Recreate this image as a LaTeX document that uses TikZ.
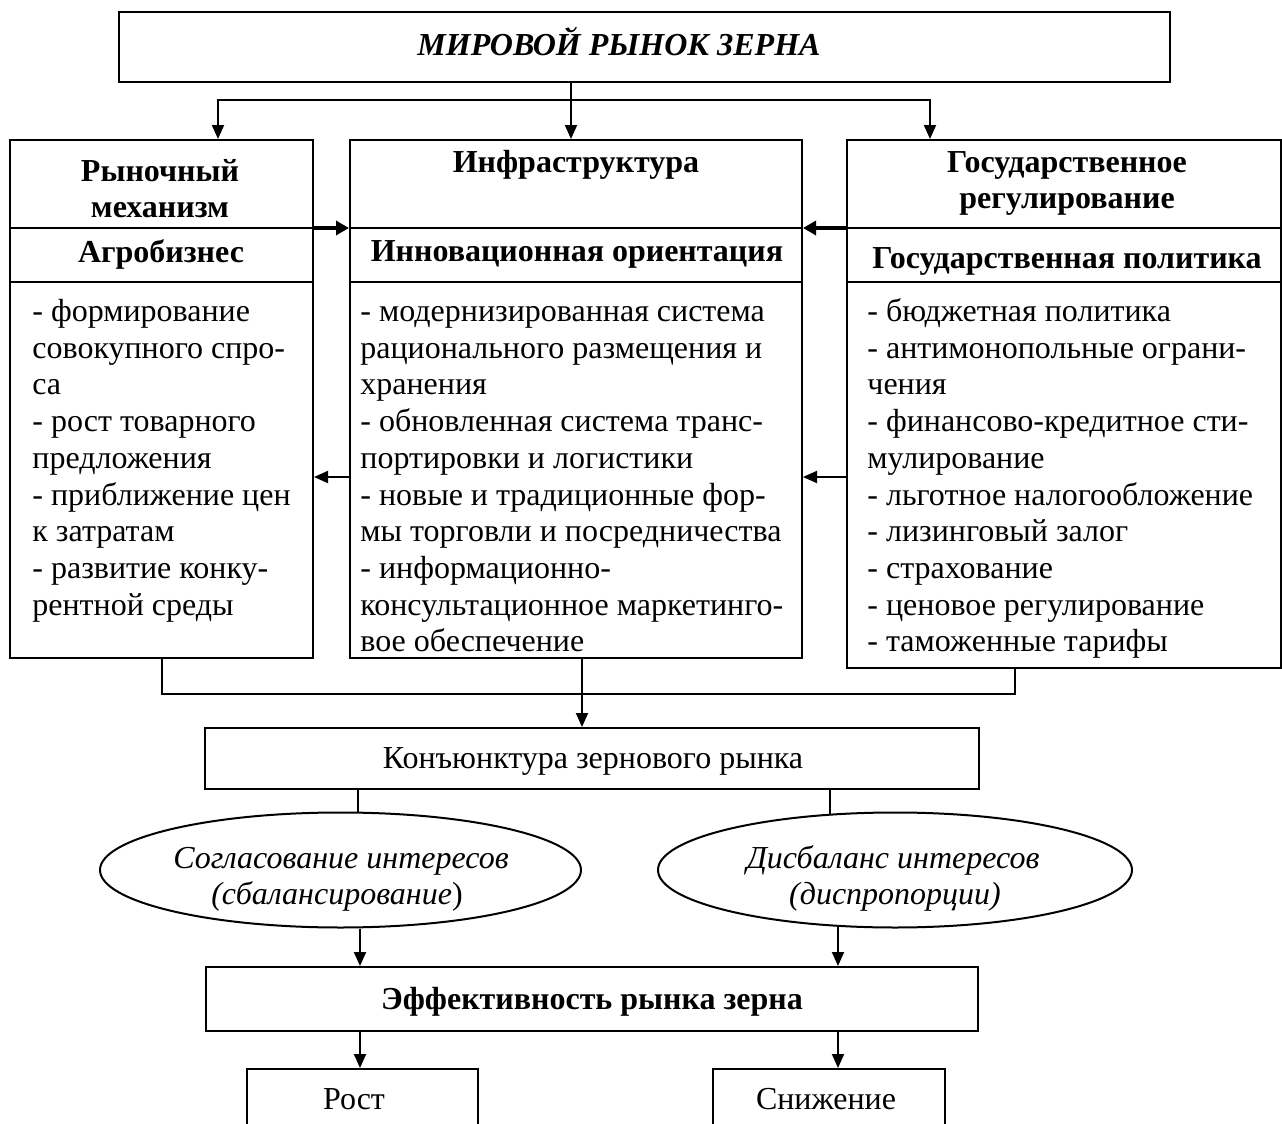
\documentclass[tikz,border=0pt]{standalone}
\usepackage{fontspec}
\setmainfont{Liberation Serif}
\usetikzlibrary{arrows.meta,shapes.geometric}
\newcommand\myfont{\fontsize{16pt}{18pt}\selectfont}
\begin{document}
\begin{tikzpicture}[x=0.5pt,y=-0.5pt,
  box/.style={draw, line width=1pt, inner sep=0pt, rectangle},
  ell/.style={draw, ellipse, line width=1pt, inner sep=0pt},
  lbl/.style={inner sep=0pt, anchor=base, font=\myfont},
  hdr/.style={inner sep=0pt, anchor=base, font=\myfont\bfseries},
  itl/.style={inner sep=0pt, anchor=base, font=\myfont\itshape},
  listA/.style={inner sep=0pt, anchor=north west, align=left, font={\fontsize{16pt}{18.35pt}\selectfont}},
  conn/.style={line width=1pt, line cap=rect},
  arr/.style={line width=1pt, -{Triangle[length=7pt,width=6pt]}},
  thickarr/.style={line width=2pt, -{Triangle[length=6.5pt,width=7pt]}}]
\useasboundingbox (0,0) rectangle (1282,1124);

% top box
\node[box, minimum width=525.5pt, minimum height=35pt] (top) at (644.5,47) {};
\node[lbl, font=\myfont\bfseries\itshape] (title) at (619,55) {МИРОВОЙ РЫНОК ЗЕРНА};

% columns
\node[box, minimum width=151.5pt, minimum height=259pt] (L) at (161.5,399) {};
\node[box, minimum width=226pt, minimum height=259pt] (M) at (576,399) {};
\node[box, minimum width=217pt, minimum height=264pt] (R) at (1064,404) {};

\coordinate (d1) at (0,228);
\coordinate (d2) at (0,282);
\coordinate (d3) at (0,477);
\foreach \n in {L,M,R}{
  \draw[line width=1pt] (\n.west |- d1) -- (\n.east |- d1);
  \draw[line width=1pt] (\n.west |- d2) -- (\n.east |- d2);
}

% headers
\node[hdr] (Lh1) at (160,181) {Рыночный};
\node[hdr] (Lh2) at (160,217) {механизм};
\node[hdr] (Mh) at (576,172) {Инфраструктура};
\node[hdr] (Rh1) at (1067,172) {Государственное};
\node[hdr] (Rh2) at (1067,208) {регулирование};
\node[hdr] (Ls) at (161,262) {Агробизнес};
\node[hdr] (Ms) at (577,261) {Инновационная ориентация};
\node[hdr] (Rs) at (1067,268) {Государственная политика};

% lists
\node[listA] (Lt) at (32,295.5) {\strut- формирование\\совокупного спро-\\са\\- рост товарного\\предложения\\- приближение цен\\к затратам\\- развитие конку-\\рентной среды};
\node[listA] (Mt) at (360,295.5) {\strut- модернизированная система\\рационального размещения и\\хранения\\- обновленная система транс-\\портировки и логистики\\- новые и традиционные фор-\\мы торговли и посредничества\\- информационно-\\консультационное маркетинго-\\вое обеспечение};
\node[listA] (Rt) at (867,295.5) {\strut- бюджетная политика\\- антимонопольные ограни-\\чения\\- финансово-кредитное сти-\\мулирование\\- льготное налогообложение\\- лизинговый залог\\- страхование\\- ценовое регулирование\\- таможенные тарифы};

% arrows between columns
\draw[thickarr] (L.east |- d1) -- (M.west |- d1);
\draw[thickarr] (R.west |- d1) -- (M.east |- d1);
\draw[arr] (M.west |- d3) -- (L.east |- d3);
\draw[arr] (R.west |- d3) -- (M.east |- d3);

% top connectors
\coordinate (t1) at (218,100);
\coordinate (t2) at (571,100);
\coordinate (t3) at (930,100);
\draw[conn] (top.south -| t2) -- (t2);
\draw[conn] (t1) -- (t3);
\draw[arr] (t1) -- (t1 |- L.north);
\draw[arr] (t2) -- (t2 |- M.north);
\draw[arr] (t3) -- (t3 |- R.north);

% conjuncture box
\node[box, minimum width=387pt, minimum height=30.5pt] (K) at (592,758.5) {};
\node[lbl] (Kt) at (593,768) {Конъюнктура зернового рынка};

% bottom connectors
\coordinate (b1) at (161.5,694);
\coordinate (b2) at (582,694);
\coordinate (b3) at (1015,694);
\draw[conn] (L.south) -- (b1) -- (b3) -- (b3 |- R.south);
\draw[arr] (M.south -| b2) -- (b2 |- K.north);

% ellipses
\node[ell, minimum width=240.5pt, minimum height=57.5pt] (E1) at (340.5,870) {};
\node[ell, minimum width=237pt, minimum height=57.5pt] (E2) at (895,870) {};
\node[itl] (E1a) at (341,868) {Согласование интересов};
\node[itl] (E1b) at (337,904) {(сбалансирование\textup{)}};
\node[itl] (E2a) at (893,868) {Дисбаланс интересов};
\node[itl] (E2b) at (895,904) {(диспропорции)};

\coordinate (c1) at (358,0);
\coordinate (c2) at (830,0);
\draw[line width=1pt] (K.south -| c1) -- (c1 |- E1.north);
\draw[line width=1pt] (K.south -| c2) -- ([yshift=-1pt]c2 |- E2.north);

% efficiency box
\node[box, minimum width=386pt, minimum height=32pt] (F) at (592,999) {};
\node[hdr] (Ft) at (592,1009) {Эффективность рынка зерна};

\coordinate (a1) at (360,0);
\coordinate (a2) at (838,0);
\draw[arr] (a1 |- E1.south) -- (a1 |- F.north);
\draw[arr] ([yshift=0.8pt]a2 |- E2.south) -- (a2 |- F.north);

% result boxes
\node[box, minimum width=115.5pt, minimum height=36pt] (G1) at (362.5,1105) {};
\node[box, minimum width=116pt, minimum height=36pt] (G2) at (829,1105) {};
\node[lbl] (G1t) at (354,1109) {Рост};
\node[lbl] (G2t) at (826,1109) {Снижение};

\draw[arr] (F.south -| a1) -- (a1 |- G1.north);
\draw[arr] (F.south -| a2) -- (a2 |- G2.north);
\end{tikzpicture}
\end{document}
